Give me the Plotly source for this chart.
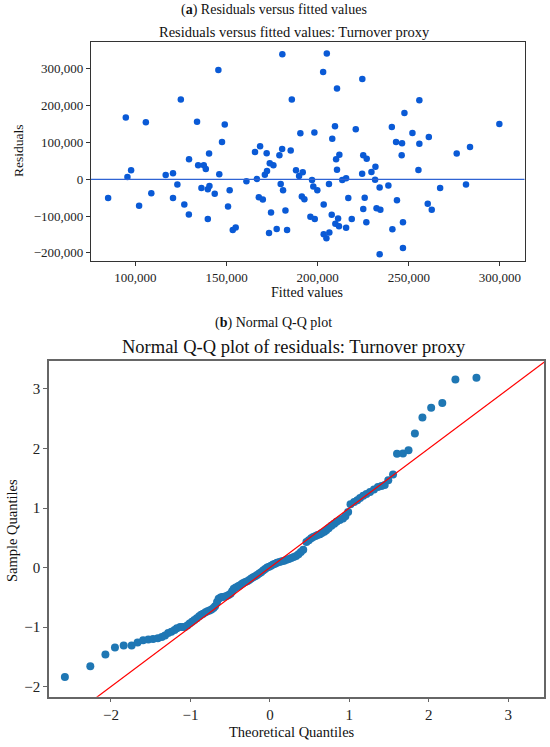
import plotly.graph_objects as go

W, H = 550, 747
SERIF = "Liberation Serif"

# (a) residuals versus fitted values
fitted = [
    180600, 145500, 124900, 185800, 94700, 105700, 133800, 149000, 147500, 168400,
    165600, 180500, 185200, 140400, 172000, 205000, 203000, 224500, 210600, 255800,
    247600, 299700, 190500, 198200, 209500, 220900, 240700, 208000, 252000, 261000,
    243000, 246300, 255800, 283600, 276300,
    85000, 95600, 97600, 102000, 108700, 116600, 120600, 120600, 123000, 126800,
    129300, 129400, 134400, 137500, 138600, 136200, 139700, 140600, 143500, 139700,
    146000, 151700, 150800, 153400, 155000, 160900, 166600, 167700, 169900, 171000,
    172200, 173700, 175700, 179000, 174400, 173300, 177500, 179700, 181000, 182300,
    183200,
    211900, 210100, 225000, 226900, 246100, 188100, 191800, 189800, 210600, 224400,
    229500, 231700, 255300, 196900, 213500, 215600, 231500, 197600, 199800, 206200,
    234000, 238800, 281400, 267200, 191300, 192700, 203300, 216800, 225800, 243500,
    260400, 262600, 225000, 232300, 234400, 196000, 198400, 207700, 211200, 218700,
    209700, 211700, 215600, 226700, 246800, 241000, 203300, 206400, 204800, 234000,
    246800,
]
residuals = [
    340000, 297000, 217000, 217000, 167600, 155000, 156000, 148700, 101000, 90000,
    74000, 82000, 78000, 70000, 71000, 342000, 291500, 272800, 247000, 214600,
    180000, 150000, 125400, 127000, 144000, 136000, 142000, 110000, 126000, 114600,
    101000, 98000, 96400, 87400, 70000,
    -51000, 6000, 24600, -72000, -38000, 11700, 16400, -51000, -14000, -68600,
    -95600, 54600, 38000, 38000, 28000, -24000, -27000, -18000, -39000, -107600,
    13700, -29700, -74000, -138000, -131000, -5600, 1000, -49000, -55000, 12600,
    22700, 43700, 38000, 65600, -90000, -146000, -135000, -13000, -29700, -85000,
    -138000,
    67000, 54600, 65600, 56000, 65600, 24600, 19000, 9000, 26000, 15300,
    20000, 34400, 25400, -2000, -2000, 2700, -1000, -19400, -29700, -13000,
    -22000, -16700, -13900, -24000, -47000, -54000, -68600, -51000, -50000, -56700,
    -66700, -82500, -80600, -79000, -82500, -102000, -107600, -96400, -106800, -107600,
    -121000, -127700, -131400, -117000, -117000, -136000, -149000, -144500, -160500, -204000,
    -187000,
]

# (b) normal Q-Q plot of the residuals
theoretical_q = [
    -2.58, -2.26, -2.07, -1.95, -1.84, -1.74, -1.665, -1.595, -1.53, -1.47,
    -1.41, -1.36, -1.32, -1.28, -1.24, -1.20, -1.17, -1.13, -1.10, -1.07,
    -1.04, -1.01, -0.98, -0.95, -0.92, -0.89, -0.865, -0.84, -0.81, -0.785,
    -0.76, -0.735, -0.71, -0.69, -0.665, -0.645, -0.62, -0.60, -0.575, -0.545,
    -0.52, -0.495, -0.475, -0.455, -0.43, -0.40, -0.38, -0.355, -0.335, -0.31,
    -0.285, -0.26, -0.235, -0.21, -0.185, -0.16, -0.135, -0.11, -0.085, -0.06,
    -0.035, -0.01, 0.015, 0.04, 0.065, 0.09, 0.12, 0.15, 0.18, 0.21,
    0.24, 0.27, 0.30, 0.33, 0.36, 0.39, 0.42, 0.46, 0.49, 0.52,
    0.545, 0.575, 0.60, 0.63, 0.655, 0.685, 0.71, 0.74, 0.775, 0.81,
    0.84, 0.88, 0.92, 0.95, 0.985, 1.015, 1.06, 1.10, 1.135, 1.175,
    1.215, 1.26, 1.31, 1.36, 1.405, 1.445, 1.49, 1.55, 1.60, 1.675,
    1.745, 1.825, 1.92, 2.03, 2.17, 2.335, 2.60,
]
sample_q = [
    -1.84, -1.66, -1.46, -1.345, -1.31, -1.31, -1.26, -1.22, -1.21, -1.20,
    -1.19, -1.165, -1.14, -1.10, -1.08, -1.05, -1.02, -1.00, -1.00, -1.00,
    -0.975, -0.94, -0.91, -0.88, -0.85, -0.82, -0.795, -0.775, -0.75, -0.735,
    -0.72, -0.705, -0.68, -0.65, -0.58, -0.525, -0.505, -0.495, -0.49, -0.48,
    -0.46, -0.44, -0.40, -0.355, -0.335, -0.315, -0.30, -0.275, -0.26, -0.245,
    -0.23, -0.21, -0.185, -0.165, -0.145, -0.125, -0.10, -0.08, -0.05, -0.025,
    0.0, 0.015, 0.03, 0.05, 0.065, 0.08, 0.095, 0.105, 0.115, 0.13,
    0.145, 0.16, 0.175, 0.195, 0.225, 0.26, 0.30, 0.43, 0.46, 0.49,
    0.515, 0.53, 0.545, 0.56, 0.58, 0.60, 0.625, 0.66, 0.70, 0.735,
    0.77, 0.80, 0.825, 0.86, 0.935, 1.065, 1.10, 1.13, 1.17, 1.205,
    1.235, 1.27, 1.31, 1.355, 1.37, 1.385, 1.465, 1.565, 1.91, 1.915,
    1.97, 2.25, 2.52, 2.685, 2.765, 3.16, 3.19,
]

# 45 degree reference line (y = x)
ref_line = [-2.8, 3.5]


def px(x):
    return x / W


def py(y):
    return 1 - y / H


def frame_axis(color, width, size, **kw):
    ax = dict(showline=True, mirror=True, linecolor=color, linewidth=width,
              ticks="outside", ticklen=4, tickwidth=1, tickcolor=color,
              showgrid=False, zeroline=False, automargin=False,
              tickfont=dict(family=SERIF, size=size, color="#222"))
    ax.update(kw)
    return ax


fig = go.Figure()

fig.add_trace(go.Scatter(
    x=fitted, y=residuals, mode="markers", xaxis="x", yaxis="y",
    marker=dict(size=6.5, color="#0a5ad6"), showlegend=False))

fig.add_trace(go.Scatter(
    x=theoretical_q, y=sample_q, mode="markers", xaxis="x2", yaxis="y2",
    marker=dict(size=8, color="#1f77b4"), showlegend=False))

fig.add_trace(go.Scatter(
    x=ref_line, y=ref_line, mode="lines", xaxis="x2", yaxis="y2",
    line=dict(color="red", width=1.2), showlegend=False))

fig.add_hline(y=0, line=dict(color="#2f63d3", width=1.2), xref="x", yref="y")

fig.update_layout(
    width=W, height=H,
    margin=dict(l=0, r=0, t=0, b=0),
    paper_bgcolor="white", plot_bgcolor="white",
    xaxis=frame_axis("#333", 1.2, 13, domain=[px(91), px(524.5)], anchor="y",
                     range=[75600, 313500], dtick=50000, tickformat=","),
    yaxis=frame_axis("#333", 1.2, 13, domain=[py(261), py(42)], anchor="x",
                     range=[-222000, 373000], dtick=100000, tickformat=","),
    xaxis2=frame_axis("#666", 1.5, 15, domain=[px(49), px(544)], anchor="y2",
                      range=[-2.78, 3.45], dtick=1),
    yaxis2=frame_axis("#666", 1.5, 15, domain=[py(696.7), py(361)], anchor="x2",
                      range=[-2.17, 3.47], dtick=1),
)

texts = [
    ("(<b>a</b>) Residuals versus fitted values", 274, 10, 14, 0),
    ("Residuals versus fitted values: Turnover proxy", 294, 32, 14.5, 0),
    ("Fitted values", 307, 292, 14, 0),
    ("Residuals", 19, 151, 13.5, -90),
    ("(<b>b</b>) Normal Q-Q plot", 273, 323, 14, 0),
    ("Normal Q-Q plot of residuals: Turnover proxy", 294, 347, 18.5, 0),
    ("Theoretical Quantiles", 292, 732, 14.5, 0),
    ("Sample Quantiles", 12, 531, 14.5, -90),
]
for text, x, y, size, angle in texts:
    fig.add_annotation(text=text, x=px(x), y=py(y), xref="paper", yref="paper",
                       showarrow=False, xanchor="center", yanchor="middle",
                       textangle=angle,
                       font=dict(family=SERIF, size=size, color="#111"))

# the page body has a default 8px margin; drop it so the figure fills the window
fig.write_html("out.html", config={"displayModeBar": False},
               post_script="document.body.style.margin = '0';")
